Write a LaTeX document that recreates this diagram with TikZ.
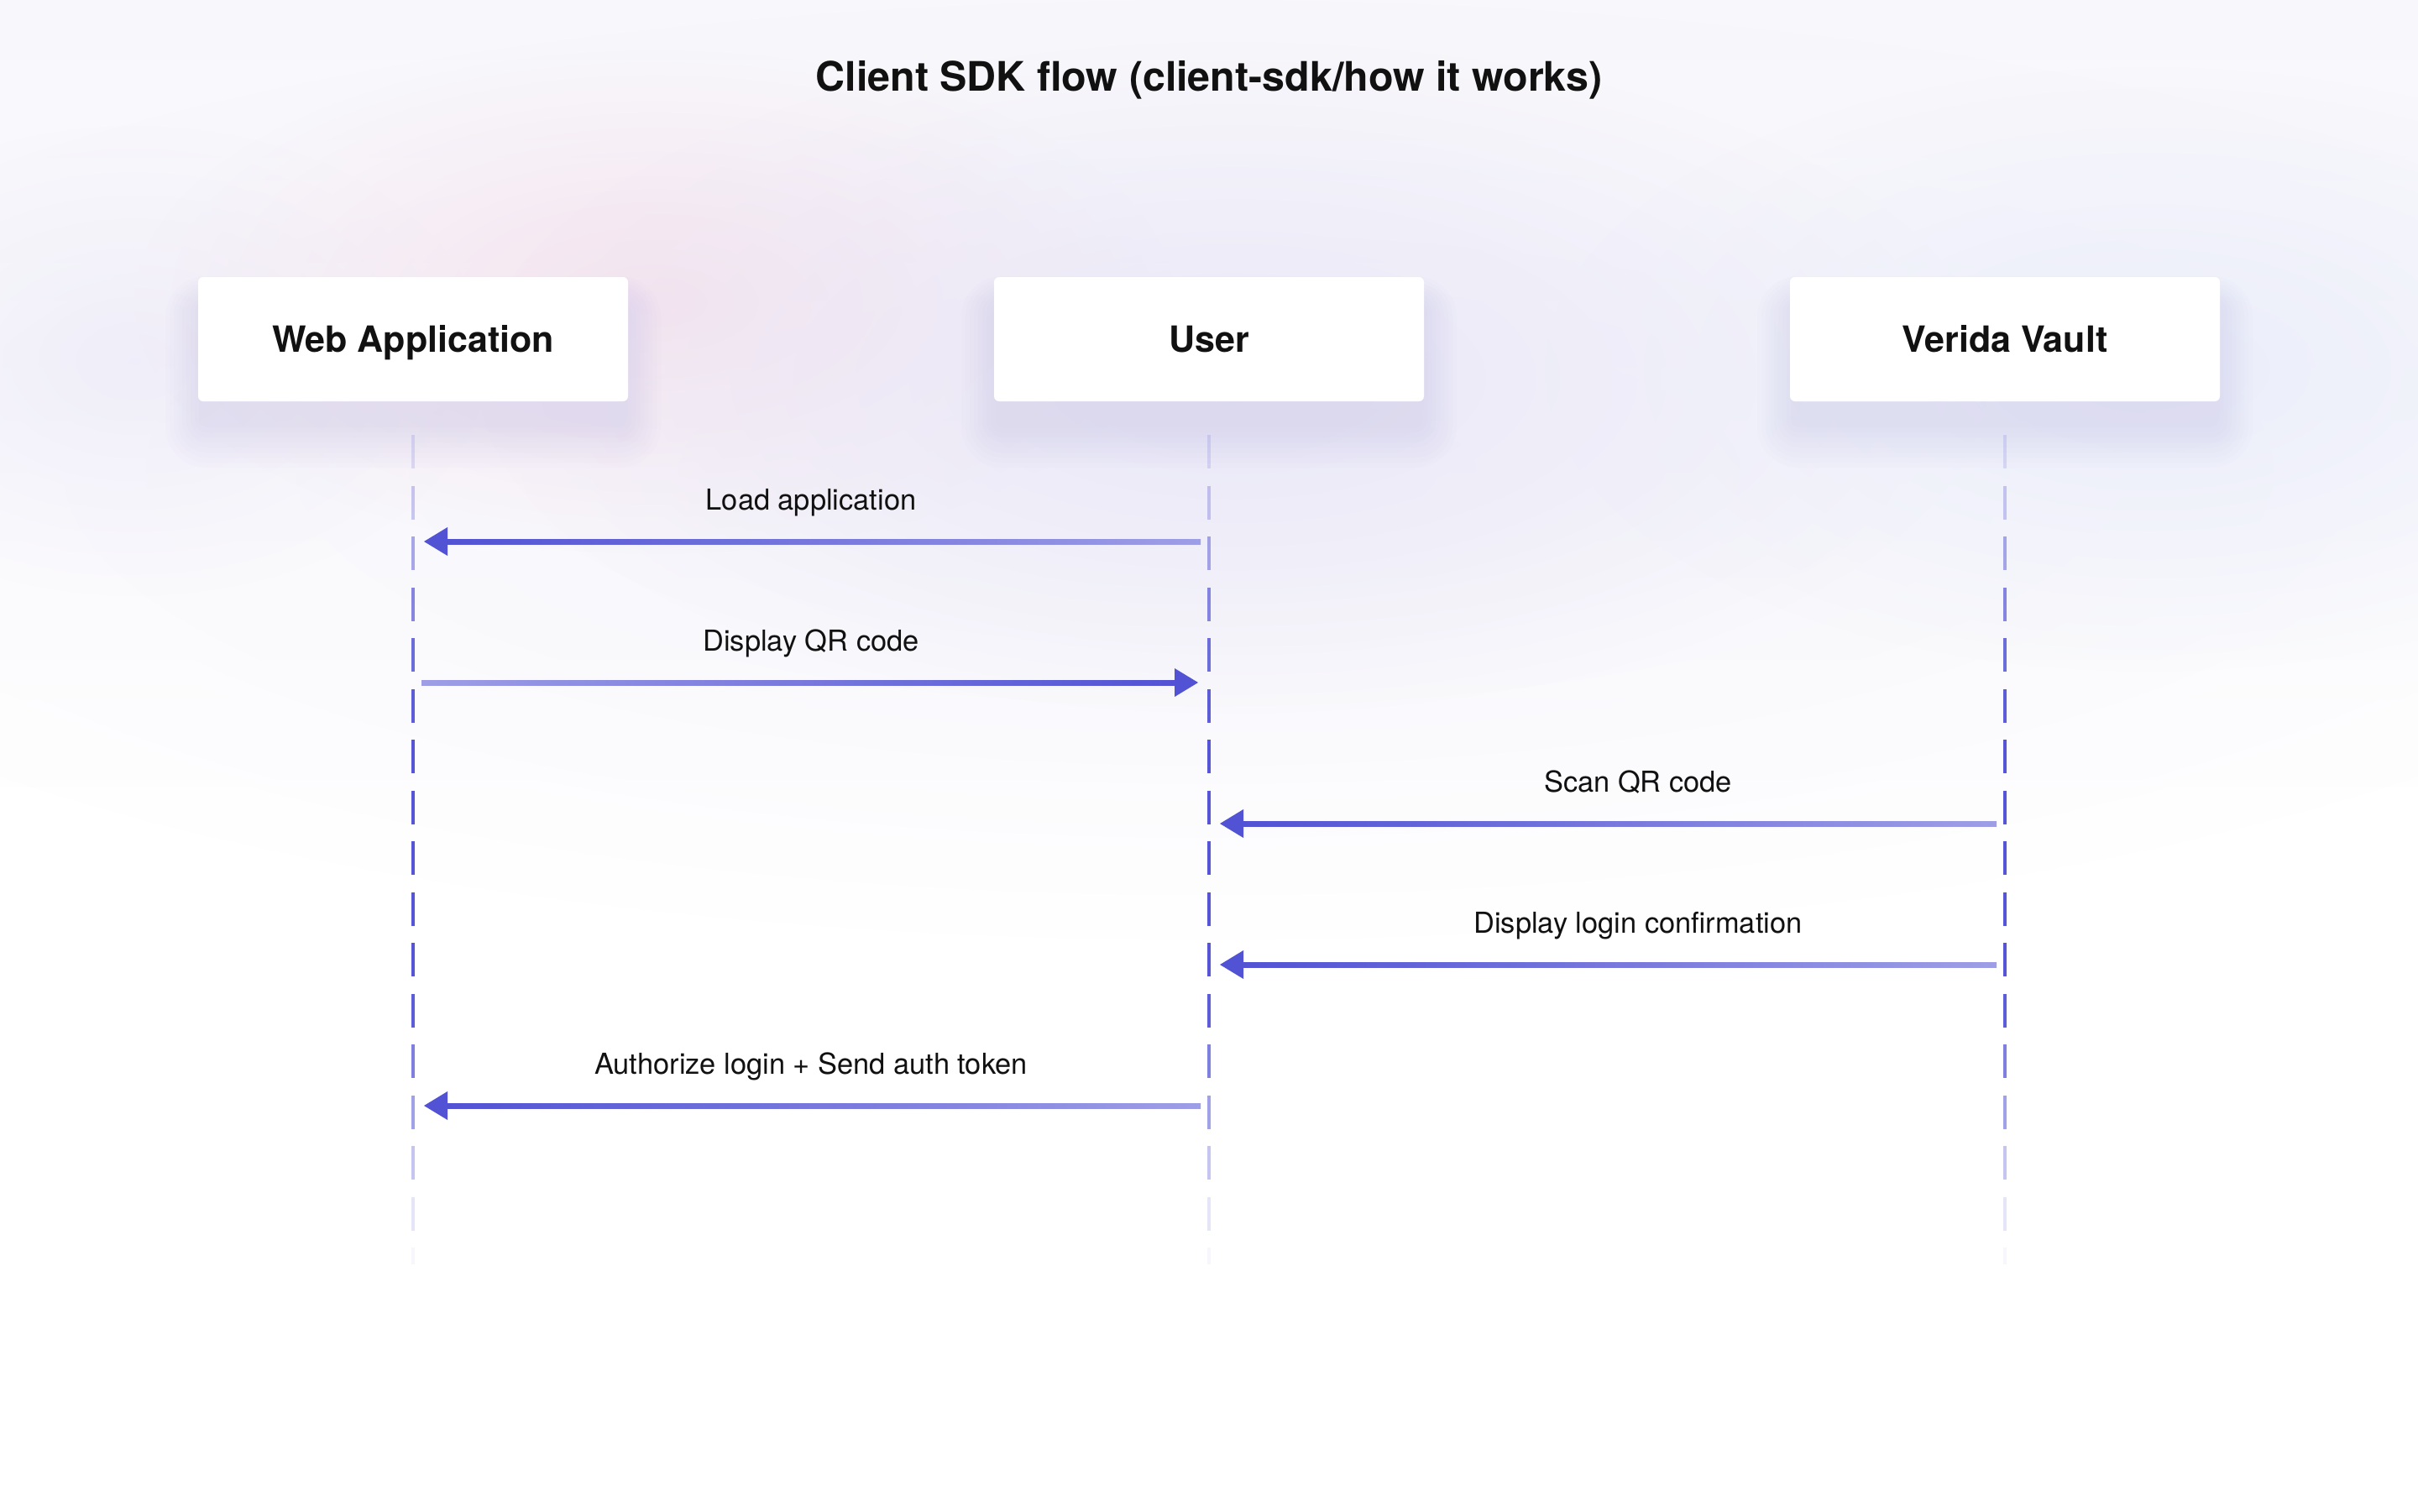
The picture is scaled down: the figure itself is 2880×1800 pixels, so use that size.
\documentclass[tikz,border=0pt]{standalone}
\usepackage{fontspec}
\setmainfont{TeX Gyre Heros}
\usetikzlibrary{calc,fadings}
\definecolor{ink}{HTML}{111111}
\definecolor{strongc}{HTML}{5252D4}
\definecolor{lightc}{HTML}{9E9EE6}
\definecolor{lifec}{HTML}{5555D5}
\definecolor{pinkglow}{HTML}{F4E3EE}
\definecolor{lavglow}{HTML}{E9E7F7}
\definecolor{blueglow}{HTML}{EAEDFA}
\definecolor{paleglow}{HTML}{F6F5FB}
\definecolor{topband}{HTML}{F8F7FC}
\definecolor{shadowc}{HTML}{CDC9EE}
\tikzfading[name=softglow, inner color=transparent!0, outer color=transparent!100]
\tikzset{
  actor/.style={fill=white, rounded corners=1.5pt, minimum width=128pt, minimum height=37pt, inner sep=0pt,
    text height=7.7pt, text depth=0pt,
    font=\bfseries\fontsize{10.75}{12}\selectfont, text=ink},
  titlestyle/.style={anchor=base, inner sep=0pt, font=\bfseries\fontsize{12.1}{14}\selectfont, text=ink},
  msglabel/.style={anchor=base, inner sep=0pt, font=\fontsize{8.6}{10}\selectfont, text=ink},
  lifeline/.style={draw=lifec, line width=1.125pt},
  glow/.style={path fading=softglow}
}
% #1 name, #2 tail node, #3 head node, #4 y, #5 direction (1 right, -1 left), #6 label x offset, #7 label
\newcommand{\msgarrow}[7]{%
  \coordinate (#1-t) at ($(#2.center |- 0,#4)+(#5*10,0)$);
  \coordinate (#1-h) at ($(#3.center |- 0,#4)-(#5*13,0)$);
  \coordinate (#1-b) at ($(#1-h)-(#5*28,0)$);
  \ifnum#5>0
    \shade[left color=lightc,right color=strongc] ($(#1-t)+(0,-3)$) rectangle ($(#1-b)+(1,3)$);
  \else
    \shade[left color=strongc,right color=lightc] ($(#1-b)+(-1,-3)$) rectangle ($(#1-t)+(0,3)$);
  \fi
  \fill[strongc] (#1-h) -- ($(#1-b)+(0,-17)$) -- ($(#1-b)+(0,17)$) -- cycle;
  \node[msglabel] (#1-lbl) at ($(#2.center |- 0,#4)!0.5!(#3.center |- 0,#4)+(#6,-38)$) {#7};
}
\begin{document}
\begin{tikzpicture}[x=0.25pt,y=-0.25pt]
\useasboundingbox (0,0) rectangle (2880,1800);
% background
\fill[white] (0,0) rectangle (2880,1800);
\shade[top color=topband, bottom color=white] (0,0) rectangle (2880,1000);
\fill[paleglow, glow] (1440,560) ellipse (1900 and 560);
\fill[lavglow, glow, fill opacity=0.6] (160,430) ellipse (420 and 280);
\fill[pinkglow, glow] (780,360) ellipse (620 and 300);
\fill[lavglow, glow] (1470,450) ellipse (900 and 400);
\fill[blueglow, glow] (2560,440) ellipse (720 and 360);

% actor boxes with soft shadows
\foreach \cx/\nm in {492/wa,1440/us,2388/vv}{
  \foreach \i in {1,...,9}{
    \pgfmathsetmacro{\rr}{1.5+1.2*\i}
    \fill[shadowc, fill opacity=0.05, rounded corners=\rr pt]
      (\cx-250-5*\i, 340-4*\i+25) rectangle (\cx+250+5*\i, 478+6*\i+25);
  }
}
\node[actor] (wa) at (492,404) {Web Application};
\node[actor] (us) at (1440,404) {User};
\node[actor] (vv) at (2388,404) {Verida Vault};

% title
\node[titlestyle] (title) at (1440,108) {Client SDK flow (client-sdk/how it works)};

% lifelines
\foreach \n in {wa,us,vv}{
  \foreach \k/\op in {0/0.16,1/0.3,2/0.5,3/0.7,4/0.85,5/0.95,6/1,7/1,8/1,9/1,10/1,11/0.95,12/0.75,13/0.55,14/0.34,15/0.15}{
    \draw[lifeline, draw opacity=\op] ($(\n.center |- 0,518)+(0,60.5*\k)$) -- ++(0,40);
  }
  \draw[lifeline, draw opacity=0.05] ($(\n.center |- 0,1486)$) -- ++(0,20);
}

% messages
\msgarrow{m1}{us}{wa}{645}{-1}{0}{Load application}
\msgarrow{m2}{wa}{us}{813}{1}{0}{Display QR code}
\msgarrow{m3}{vv}{us}{981}{-1}{37}{Scan QR code}
\msgarrow{m4}{vv}{us}{1149}{-1}{37}{Display login confirmation}
\msgarrow{m5}{us}{wa}{1317}{-1}{0}{Authorize login + Send auth token}
\end{tikzpicture}
\end{document}
